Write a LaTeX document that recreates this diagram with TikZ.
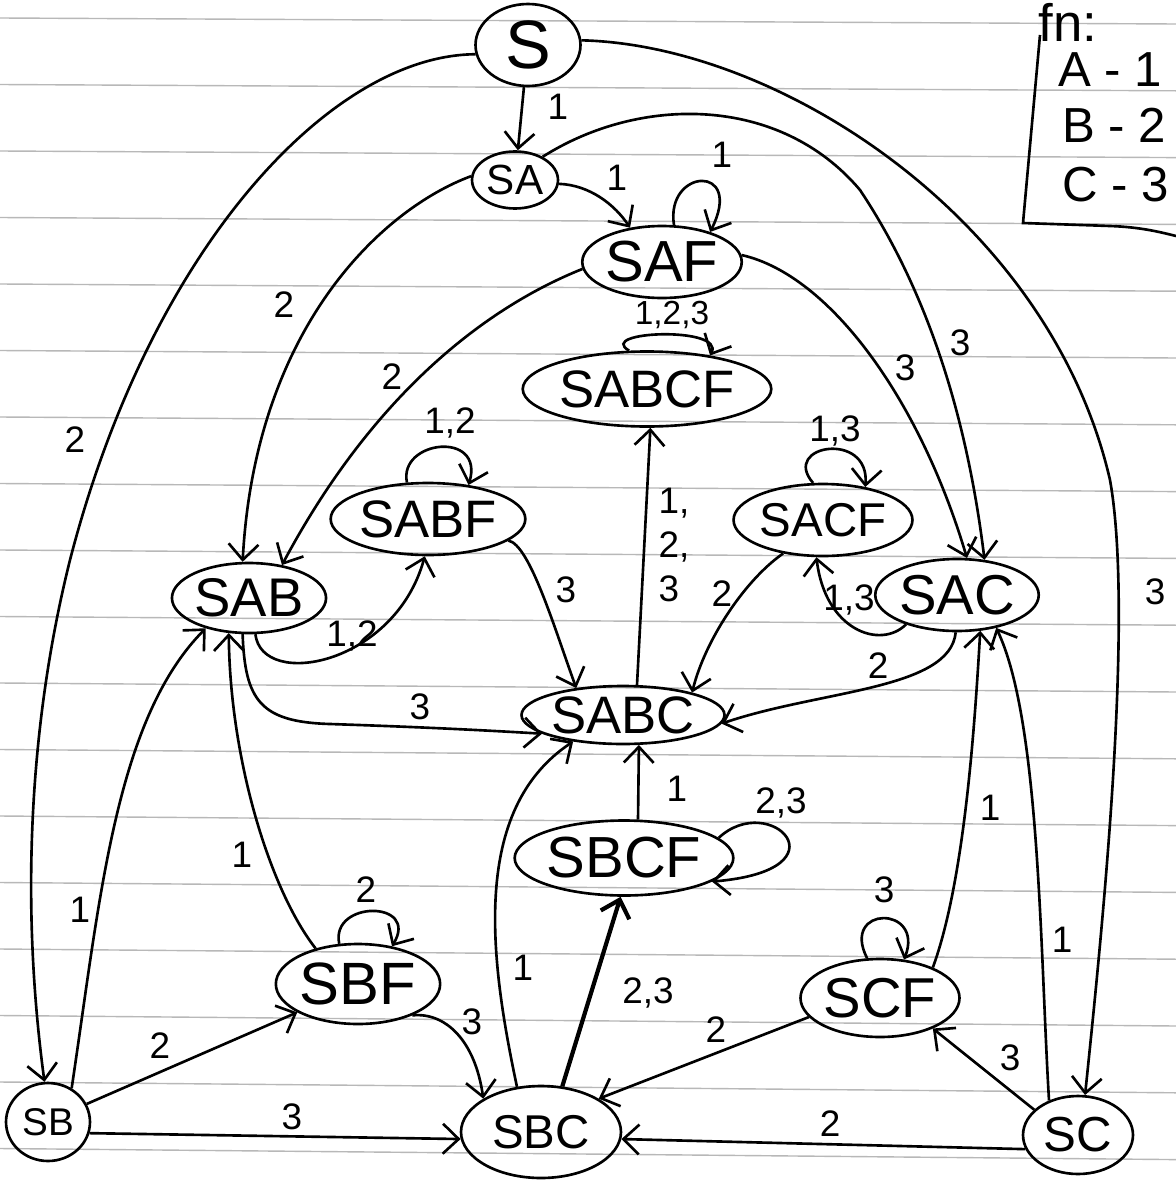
\documentclass[tikz,border=0pt]{standalone}
\usepackage{fontspec}
\setmainfont{Liberation Sans}
\usetikzlibrary{arrows.meta,shapes.geometric}
\begin{document}
\begin{tikzpicture}[x=0.02cm,y=-0.02cm,
  st/.style={draw, ellipse, line width=1.5pt, inner sep=0pt},
  nd/.style n args={3}{minimum width=#1, minimum height=#2, font=\fontsize{#3}{#3}\selectfont},
  arr/.style={line width=1.5pt, -{Straight Barb[length=9pt,width=17pt]}},
  lab/.style={font=\fontsize{21}{25}\selectfont, inner sep=0pt},
  leg/.style={anchor=west, font=\fontsize{28}{28}\selectfont, inner sep=0pt},
  paper/.style={black!28, line width=0.8pt}]

\fill[white] (0,0) rectangle (1176,1183);
\useasboundingbox (0,0) rectangle (1176,1183);
\foreach \k in {0,...,17} \draw[paper] (0,{18+66.5*\k}) -- (1176,{24+66.8*\k});

% states
\node[st, nd={2.1cm}{1.64cm}{39}]   (S)     at (528,45)   {S};
\node[st, nd={1.72cm}{1.14cm}{24}]  (SA)    at (515,180)  {SA};
\node[st, nd={3.04cm}{1.44cm}{33}]  (SAF)   at (662,262)  {SAF};
\node[st, nd={4.36cm}{1.5cm}{30}]   (SABCF) at (647,389)  {SABCF};
\node[st, nd={3.52cm}{1.44cm}{30}]  (SABF)  at (428,519)  {SABF};
\node[st, nd={3.04cm}{1.44cm}{27}]  (SACF)  at (823,520)  {SACF};
\node[st, nd={2.76cm}{1.4cm}{31}]   (SAB)   at (249,598)  {SAB};
\node[st, nd={3.0cm}{1.44cm}{32}]   (SAC)   at (957,595)  {SAC};
\node[st, nd={3.44cm}{1.16cm}{30}]  (SABC)  at (623,715)  {SABC};
\node[st, nd={3.6cm}{1.5cm}{33}]    (SBCF)  at (624,858)  {SBCF};
\node[st, nd={3.0cm}{1.6cm}{34}]    (SBF)   at (358,984)  {SBF};
\node[st, nd={3.0cm}{1.56cm}{32}]   (SCF)   at (880,998)  {SCF};
\node[st, nd={1.68cm}{1.56cm}{22}]  (SB)    at (48,1122)  {SB};
\node[st, nd={3.2cm}{1.84cm}{27}]   (SBC)   at (541,1132) {SBC};
\node[st, nd={2.2cm}{1.56cm}{28}]   (SC)    at (1078,1135) {SC};

% legend
\node[font=\fontsize{30}{30}\selectfont, inner sep=0pt] (fn) at (1068,22) {fn:};
\draw[line width=1.5pt] (1040,35) -- (1023,223) -- (1110,226) .. controls (1140,227) and (1160,232) .. (1176,236);
\node[leg] (la) at (1058,70)  {A - 1};
\node[leg] (lb) at (1062,125) {B - 2};
\node[leg] (lc) at (1062,185) {C - 3};

% transitions from S
\draw[arr] (S) -- (SA) node[lab, at={(558,107)}] (l1) {1};
\draw[arr] (S.190) .. controls (330,55) and (150,250) .. (70,560) .. controls (30,720) and (20,900) .. (SB.95) node[lab, at={(75,440)}] (l2) {2};
\draw[arr] (S.5) .. controls (780,45) and (1050,220) .. (1110,480) .. controls (1135,620) and (1100,950) .. (SC.80) node[lab, at={(1155,592)}] (l3) {3};

% from SA
\draw[arr] (SA.-5) .. controls (590,185) and (615,205) .. (SAF.133) node[lab, at={(617,178)}] (l4) {1};
\draw[arr] (SA.40) .. controls (640,95) and (780,95) .. (860,190) .. controls (920,280) and (965,400) .. (SAC.52) node[lab, at={(960,343)}] (l5) {3};
\draw[arr] (SA.175) .. controls (380,210) and (255,330) .. (SAB.100) node[lab, at={(284,305)}] (l6) {2};

% from SAF
\draw[arr] (SAF.72) .. controls (665,168) and (745,163) .. (SAF.32) node[lab, at={(722,155)}] (l7) {1};
\draw[arr] (SAF.185) .. controls (480,310) and (370,400) .. (SAB.45) node[lab, at={(392,377)}] (l8) {2};
\draw[arr] (SAF.5) .. controls (830,275) and (920,400) .. (SAC.75) node[lab, at={(905,368)}] (l9) {3};

% SABCF
\draw[arr] (SABCF.115) .. controls (595,331) and (725,326) .. (SABCF.28) node[lab, font=\fontsize{19}{22}\selectfont, at={(672,315)}] (l10) {1,2,3};

% SABF and SAB
\draw[arr] (SABF.120) .. controls (398,440) and (485,430) .. (SABF.40) node[lab, at={(450,423)}] (l11) {1,2};
\draw[arr] (SAB.-80) .. controls (262,690) and (395,665) .. (SABF.-95) node[lab, at={(352,636)}] (l12) {1,2};
\draw[arr] (SABF.-15) .. controls (530,545) and (555,630) .. (SABC.150) node[lab, at={(566,590)}] (l13) {3};
\draw[arr] (SAB.-100) .. controls (245,700) and (260,722) .. (330,724) .. controls (420,727) and (480,730) .. (SABC.193) node[lab, at={(420,707)}] (l14) {3};

% SABC -> SABCF
\draw[arr] (SABC.65) -- (SABCF.-85) node[lab, at={(674,545)}, align=left] (l15) {1,\\2,\\3};

% SACF and SAC
\draw[arr] (SACF.105) .. controls (780,445) and (870,430) .. (SACF.38) node[lab, at={(835,431)}] (l16) {1,3};
\draw[arr] (SACF.-140) .. controls (745,580) and (705,640) .. (SABC.18) node[lab, at={(722,594)}] (l17) {2};
\draw[arr] (SAC.-150) .. controls (880,650) and (825,630) .. (SACF.-100) node[lab, at={(849,600)}] (l18) {1,3};
\draw[arr] (SAC.-92) .. controls (950,690) and (820,690) .. (SABC.-5) node[lab, at={(878,666)}] (l19) {2};

% SBCF
\draw[arr] (SBCF.70) -- (SABC.-62) node[lab, at={(677,789)}] (l20) {1};
\draw[arr] (SBCF.12) .. controls (770,790) and (850,870) .. (SBCF.-15) node[lab, at={(781,803)}] (l21) {2,3};

% SBC
\draw[arr, line width=2.4pt] (SBC.65) -- (SBCF.-95) node[lab, at={(648,993)}] (l22) {2,3};
\draw[arr] (SBC.118) .. controls (490,960) and (470,810) .. (SABC.-152) node[lab, at={(523,968)}] (l23) {1};

% SBF
\draw[arr] (SBF.140) .. controls (270,890) and (230,760) .. (SAB.-120) node[lab, at={(242,855)}] (l24) {1};
\draw[arr] (SBF.115) .. controls (330,900) and (420,900) .. (SBF.48) node[lab, at={(366,890)}] (l25) {2};
\draw[arr] (SBF.-30) .. controls (445,1012) and (475,1040) .. (SBC.150) node[lab, at={(472,1022)}] (l26) {3};

% SB
\draw[arr] (SB.55) .. controls (100,900) and (115,720) .. (SAB.-145) node[lab, at={(80,910)}] (l27) {1};
\draw[arr] (SB.25) -- (SBF.-155) node[lab, at={(160,1046)}] (l28) {2};
\draw[arr] (SB.-15) -- (SBC.185) node[lab, at={(292,1117)}] (l29) {3};

% SC and SCF
\draw[arr] (SC.195) -- (SBC.-5) node[lab, at={(830,1124)}] (l30) {2};
\draw[arr] (SC.150) -- (SCF.-30) node[lab, at={(1010,1058)}] (l31) {3};
\draw[arr] (SCF.108) .. controls (840,905) and (925,905) .. (SCF.58) node[lab, at={(884,890)}] (l32) {3};
\draw[arr] (SCF.30) .. controls (965,880) and (975,720) .. (SAC.-57) node[lab, at={(990,808)}] (l33) {1};
\draw[arr] (SC.130) .. controls (1040,950) and (1040,720) .. (SAC.-40) node[lab, at={(1062,940)}] (l34) {1};
\draw[arr] (SCF.-165) -- (SBC.30) node[lab, at={(716,1030)}] (l35) {2};
\end{tikzpicture}
\end{document}
